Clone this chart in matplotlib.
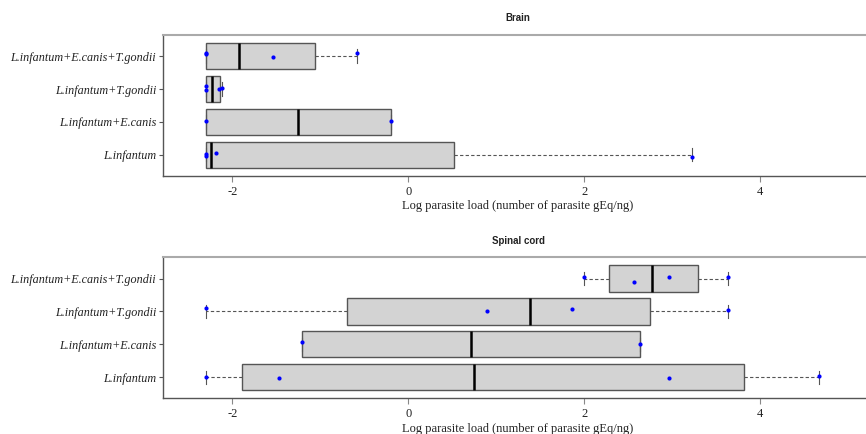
import matplotlib.pyplot as plt
import numpy as np

groups = ["L.infantum", "L.infantum+E.canis", "L.infantum+T.gondii",
          "L.infantum+E.canis+T.gondii"]

# log parasite load per dog, one list per group (bottom to top)
brain = [
    [-2.30, -2.30, -2.19, 3.22],
    [-2.30, -0.195],
    [-2.30, -2.30, -2.15, -2.12],
    [-2.30, -2.30, -1.54, -0.58],
]
spinal = [
    [-2.30, -1.47, 2.96, 4.67],
    [-1.21, 2.63],
    [-2.30, 0.90, 1.86, 3.63],
    [2.00, 2.57, 2.96, 3.63],
]

# small vertical jitter for the stripchart points
brain_jit = [
    [0.03, -0.03, 0.05, -0.07],
    [0.03, 0.03],
    [0.10, -0.04, -0.01, 0.04],
    [0.08, 0.06, -0.04, 0.08],
]
spinal_jit = [
    [0.00, -0.01, -0.03, 0.05],
    [0.06, 0.01],
    [0.11, 0.00, 0.06, 0.03],
    [0.05, -0.09, 0.04, 0.04],
]

xticks = [-2, 0, 2, 4]
xlab = "Log parasite load (number of parasite gEq/ng)"


def fivenum(v):
    # Tukey hinges, same as R's fivenum()
    x = np.sort(np.asarray(v, dtype=float))
    n = len(x)
    n4 = np.floor((n + 3) / 2) / 2
    d = np.array([1, n4, (n + 1) / 2, n + 1 - n4, n]) - 1
    return 0.5 * (x[np.floor(d).astype(int)] + x[np.ceil(d).astype(int)])


def stats(v):
    lo, q1, med, q3, hi = fivenum(v)
    iqr = q3 - q1
    arr = np.asarray(v)
    wlo = arr[arr >= q1 - 1.5 * iqr].min()
    whi = arr[arr <= q3 + 1.5 * iqr].max()
    return dict(whislo=wlo, q1=q1, med=med, q3=q3, whishi=whi, fliers=[])


def panel(ax, data, jit, title):
    edge = "#555555"
    ax.bxp([stats(v) for v in data], positions=[1, 2, 3, 4],
           orientation="horizontal", widths=0.8, capwidths=0.4,
           patch_artist=True, showfliers=False,
           boxprops=dict(facecolor="#d3d3d3", edgecolor=edge, linewidth=1.0),
           medianprops=dict(color="black", linewidth=1.8),
           whiskerprops=dict(color=edge, linewidth=0.8, linestyle=(0, (3, 2))),
           capprops=dict(color=edge, linewidth=0.8))
    for i, (v, j) in enumerate(zip(data, jit)):
        ax.scatter(v, np.array(j) + i + 1, s=9, color="blue", zorder=5,
                   linewidths=0)
    ax.set_xlim(-2.787, 5.28)
    ax.set_ylim(0.36, 4.64)
    ax.set_yticks([1, 2, 3, 4])
    ax.set_yticklabels(groups, family="Liberation Serif", style="italic",
                       fontsize=8.7, color="#222222")
    ax.set_xticks(xticks)
    ax.set_xticklabels([str(t) for t in xticks], family="Liberation Serif",
                       fontsize=9, color="#222222")
    ax.tick_params(axis="y", length=3, width=0.8, color=edge, pad=2)
    ax.tick_params(axis="x", length=4, width=0.8, color="#888888", pad=3)
    ax.set_xlabel(xlab, family="Liberation Serif", fontsize=9,
                  color="#222222", labelpad=2)
    ax.set_title(title, family="Liberation Sans", fontweight="bold",
                 fontsize=7, color="#222222", pad=10)
    ax.spines["right"].set_visible(False)
    ax.spines["top"].set_color("#aaaaaa")
    ax.spines["top"].set_linewidth(1.5)
    for s in ("left", "bottom"):
        ax.spines[s].set_color(edge)
        ax.spines[s].set_linewidth(1.0)


fig = plt.figure(figsize=(8.66, 4.34), dpi=100)
ax1 = fig.add_axes([0.1882, 0.5945, 0.8198, 0.3249])
ax2 = fig.add_axes([0.1882, 0.0823, 0.8198, 0.3244])
panel(ax1, brain, brain_jit, "Brain")
panel(ax2, spinal, spinal_jit, "Spinal cord")

fig.savefig("out.png", dpi=100)
